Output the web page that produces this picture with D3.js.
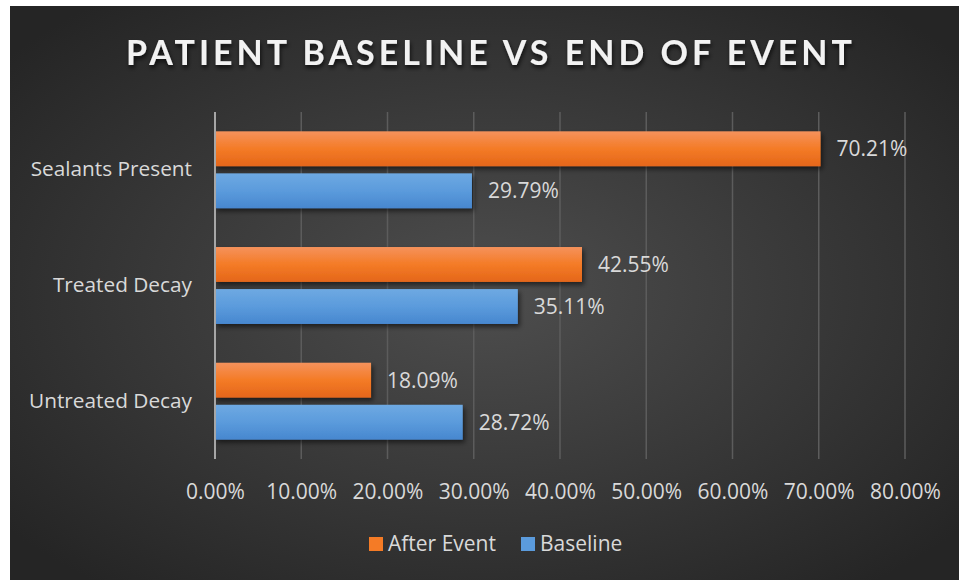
<!DOCTYPE html>
<html>
<head>
<meta charset="utf-8">
<script src="https://cdn.jsdelivr.net/npm/d3@7"></script>
<style>
  body { margin: 0; background: #fff; }
  text { font-family: "Open Sans", sans-serif; }
</style>
</head>
<body>
<div id="chart"></div>
<script>
// chart data
const categories = ["Sealants Present", "Treated Decay", "Untreated Decay"];
const seriesNames = ["After Event", "Baseline"];
const afterEvent = [0.7021, 0.4255, 0.1809];
const baseline = [0.2979, 0.3511, 0.2872];
const xTicks = [0, 0.1, 0.2, 0.3, 0.4, 0.5, 0.6, 0.7, 0.8];

const W = 959, H = 580;
const plot = {left: 215, right: 905, top: 112, bottom: 459};

var svg = d3.select("#chart")
  .append("svg")
    .attr("width", W)
    .attr("height", H);

var defs = svg.append("defs");

var bg = defs.append("radialGradient")
  .attr("id", "bgGrad")
  .attr("cx", "50%").attr("cy", "50%").attr("r", "65%");
bg.append("stop").attr("offset", "0%").attr("stop-color", "#4e4e4e");
bg.append("stop").attr("offset", "100%").attr("stop-color", "#252525");

var og = defs.append("linearGradient")
  .attr("id", "orangeGrad").attr("x1", 0).attr("y1", 0).attr("x2", 0).attr("y2", 1);
og.append("stop").attr("offset", "0%").attr("stop-color", "#f5925c");
og.append("stop").attr("offset", "50%").attr("stop-color", "#f47b26");
og.append("stop").attr("offset", "100%").attr("stop-color", "#e4661a");

var bgr = defs.append("linearGradient")
  .attr("id", "blueGrad").attr("x1", 0).attr("y1", 0).attr("x2", 0).attr("y2", 1);
bgr.append("stop").attr("offset", "0%").attr("stop-color", "#6ea9e2");
bgr.append("stop").attr("offset", "50%").attr("stop-color", "#5b9bdc");
bgr.append("stop").attr("offset", "100%").attr("stop-color", "#4787cf");

var shadow = defs.append("filter").attr("id", "barShadow")
  .attr("x", "-5%").attr("y", "-20%").attr("width", "115%").attr("height", "160%");
shadow.append("feDropShadow")
  .attr("dx", 2).attr("dy", 3).attr("stdDeviation", 2.5)
  .attr("flood-color", "#000").attr("flood-opacity", 0.55);

var tshadow = defs.append("filter").attr("id", "titleShadow")
  .attr("x", "-5%").attr("y", "-20%").attr("width", "110%").attr("height", "160%");
tshadow.append("feDropShadow")
  .attr("dx", 1).attr("dy", 3).attr("stdDeviation", 2)
  .attr("flood-color", "#000").attr("flood-opacity", 0.7);

// background
svg.append("rect")
  .attr("x", 10).attr("y", 6)
  .attr("width", W - 10).attr("height", H - 6)
  .attr("fill", "url(#bgGrad)");

// title
svg.append("text")
  .attr("x", 491)
  .attr("y", 65)
  .attr("text-anchor", "middle")
  .style("font-family", "Lato, sans-serif")
  .style("font-size", "34px")
  .style("font-weight", "bold")
  .style("letter-spacing", "4px")
  .attr("fill", "#f2f2f2")
  .attr("filter", "url(#titleShadow)")
  .text("PATIENT BASELINE VS END OF EVENT");

var x = d3.scaleLinear()
  .domain([0, 0.8])
  .range([plot.left, plot.right]);

var y0 = d3.scaleBand()
  .domain(categories)
  .range([plot.top, plot.bottom])
  .paddingInner(0.335)
  .paddingOuter(0.167);

var y1 = d3.scaleBand()
  .domain(seriesNames)
  .range([0, y0.bandwidth()])
  .paddingInner(0.17);

// gridlines
svg.append("g")
  .selectAll("line")
  .data(xTicks.slice(1))
  .enter()
  .append("line")
    .attr("x1", function(d) { return x(d); })
    .attr("x2", function(d) { return x(d); })
    .attr("y1", plot.top)
    .attr("y2", plot.bottom)
    .attr("stroke", "#5c5c5c")
    .attr("stroke-width", 1.5);

// x tick labels
var xAxis = svg.append("g")
  .attr("transform", "translate(0," + 492 + ")")
  .call(d3.axisBottom(x).tickValues(xTicks).tickFormat(d3.format(".2%")).tickSize(0));
xAxis.select(".domain").remove();
xAxis.selectAll("text")
  .attr("fill", "#d9d9d9")
  .attr("y", 0)
  .attr("dy", "0.35em")
  .style("font-size", "21px")
  .style("font-family", "'Open Sans', sans-serif");

// category labels
var yAxis = svg.append("g")
  .attr("transform", "translate(" + 192 + ",0)")
  .call(d3.axisLeft(y0).tickSize(0).tickPadding(0));
yAxis.select(".domain").remove();
yAxis.selectAll("text")
  .attr("fill", "#d9d9d9")
  .style("font-size", "20.8px")
  .style("font-family", "'Open Sans', sans-serif");

var rows = categories.map(function(c, i) {
  return [
    {cat: c, series: "After Event", value: afterEvent[i]},
    {cat: c, series: "Baseline", value: baseline[i]}
  ];
});

var groups = svg.append("g")
  .selectAll("g")
  .data(rows)
  .enter()
  .append("g")
    .attr("transform", function(d) { return "translate(0," + y0(d[0].cat) + ")"; });

groups.selectAll("rect")
  .data(function(d) { return d; })
  .enter()
  .append("rect")
    .attr("x", x(0))
    .attr("y", function(d) { return y1(d.series); })
    .attr("width", function(d) { return x(d.value) - x(0); })
    .attr("height", y1.bandwidth())
    .attr("fill", function(d) { return d.series === "After Event" ? "url(#orangeGrad)" : "url(#blueGrad)"; })
    .attr("filter", "url(#barShadow)");

groups.selectAll("text")
  .data(function(d) { return d; })
  .enter()
  .append("text")
    .attr("x", function(d) { return x(d.value) + 16; })
    .attr("y", function(d) { return y1(d.series) + y1.bandwidth() / 2; })
    .attr("dy", "0.35em")
    .attr("fill", "#d9d9d9")
    .style("font-size", "21px")
    .text(function(d) { return d3.format(".2%")(d.value); });

// vertical axis line
svg.append("line")
  .attr("x1", x(0)).attr("x2", x(0))
  .attr("y1", plot.top).attr("y2", plot.bottom)
  .attr("stroke", "#a6a6a6")
  .attr("stroke-width", 2);

// legend
var legendColors = ["#f47b26", "#5b9bdc"];
var legendX = [369, 521];
var legend = svg.append("g")
  .selectAll("g")
  .data(seriesNames)
  .enter()
  .append("g")
    .attr("transform", function(d, i) { return "translate(" + legendX[i] + ",544)"; });
legend.append("rect")
  .attr("x", 0).attr("y", -7)
  .attr("width", 14).attr("height", 14)
  .attr("fill", function(d, i) { return legendColors[i]; });
legend.append("text")
  .attr("x", 19)
  .attr("dy", "0.35em")
  .attr("fill", "#d9d9d9")
  .style("font-size", "21px")
  .text(function(d) { return d; });
</script>
</body>
</html>
